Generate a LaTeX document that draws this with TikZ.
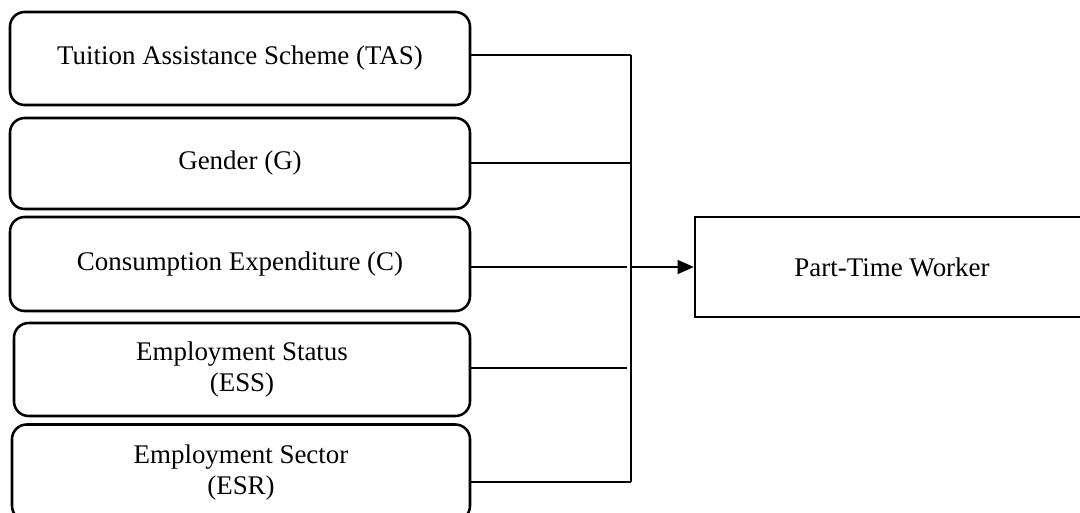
\documentclass[tikz,border=0pt]{standalone}
\usepackage{fontspec}
\setmainfont{Liberation Serif}
\usetikzlibrary{arrows.meta}
\begin{document}
\begin{tikzpicture}[x=0.75pt,y=-0.75pt,
  factor/.style={draw,line width=1.9pt,rounded corners=11pt,align=center,
    font=\fontsize{20.2}{23}\selectfont,inner sep=0pt},
  outcome/.style={draw,line width=1.9pt,align=center,
    font=\fontsize{20.2}{23}\selectfont,inner sep=0pt},
  link/.style={line width=0.9pt},
  arr/.style={line width=0.9pt,-{Triangle[length=12pt,width=10.5pt]}}]
\useasboundingbox (0,0) rectangle (1080,512);
\clip (0,0) rectangle (1080,512);
\node[factor,minimum width=460*0.75pt,minimum height=93*0.75pt] (b1) at (240,58.5) {Tuition Assistance Scheme (TAS)};
\node[factor,minimum width=460*0.75pt,minimum height=91*0.75pt] (b2) at (240,163.5) {Gender (G)};
\node[factor,minimum width=460*0.75pt,minimum height=94*0.75pt] (b3) at (240,264) {Consumption Expenditure (C)};
\node[factor,minimum width=456*0.75pt,minimum height=93*0.75pt] (b4) at (242,369.5) {Employment Status\\(ESS)};
\node[factor,minimum width=458*0.75pt,minimum height=96*0.75pt] (b5) at (241,472.5) {Employment Sector\\(ESR)};
\node[outcome,minimum width=394*0.75pt,minimum height=100*0.75pt] (pt) at (892,267) {Part-Time Worker};
\coordinate (j1) at (631,55);
\coordinate (j2) at (631,163);
\coordinate (j3) at (627,267);
\coordinate (j4) at (627,368);
\coordinate (j5) at (631,482);
\coordinate (jm) at (631,267);
\draw[link] (b1.east |- j1) -- (j1);
\draw[link] (b2.east |- j2) -- (j2);
\draw[link] (b3.east |- j3) -- (j3);
\draw[link] (b4.east |- j4) -- (j4);
\draw[link] (b5.east |- j5) -- (j5);
\draw[link] (j1) -- (j5);
\draw[arr] (jm) -- (pt.west);
\end{tikzpicture}
\end{document}
